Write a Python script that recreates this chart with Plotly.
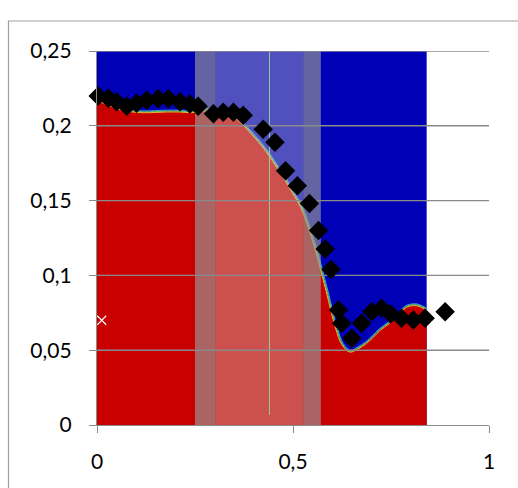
import numpy as np
import plotly.graph_objects as go

# Interface between the red (lower) and blue (upper) phase fields
boundary_x = [0.0, 0.03, 0.06, 0.09, 0.12, 0.15, 0.18, 0.21, 0.24, 0.27, 0.30, 0.33,
              0.36, 0.39, 0.42, 0.44, 0.46, 0.48, 0.50, 0.52, 0.54, 0.56, 0.575, 0.586,
              0.598, 0.611, 0.625, 0.645, 0.665, 0.688, 0.705, 0.722, 0.745, 0.765,
              0.79, 0.816, 0.841]
boundary_y = [0.217, 0.214, 0.211, 0.2095, 0.209, 0.2092, 0.2095, 0.2095, 0.209, 0.21,
              0.211, 0.209, 0.204, 0.196, 0.187, 0.180, 0.172, 0.164, 0.155, 0.146,
              0.132, 0.115, 0.100, 0.089, 0.076, 0.0635, 0.054, 0.049, 0.051, 0.055,
              0.059, 0.0635, 0.068, 0.0725, 0.079, 0.080, 0.077]

# Measured points
meas_x = [0.003, 0.029, 0.05, 0.076, 0.101, 0.127, 0.156, 0.182, 0.212, 0.237, 0.258,
          0.297, 0.322, 0.348, 0.373, 0.424, 0.454, 0.481, 0.511, 0.542, 0.565, 0.582,
          0.597, 0.616, 0.624, 0.650, 0.675, 0.701, 0.726, 0.749, 0.777, 0.807, 0.837,
          0.888]
meas_y = [0.2199, 0.2184, 0.216, 0.213, 0.215, 0.217, 0.218, 0.218, 0.216, 0.2146,
          0.213, 0.208, 0.209, 0.209, 0.207, 0.1977, 0.189, 0.170, 0.160, 0.148, 0.130,
          0.1176, 0.104, 0.0769, 0.068, 0.058, 0.068, 0.0757, 0.078, 0.0742, 0.0713,
          0.0702, 0.0713, 0.0757]

# Highlighted x-windows
inner_band = [0.303, 0.526]
edge_bands = [[0.25, 0.303], [0.526, 0.571]]
marker_line_x = 0.44
stray_point = [0.012, 0.070]

x_ticks = [0, 0.5, 1]
x_labels = ["0", "0,5", "1"]
y_ticks = [0, 0.05, 0.1, 0.15, 0.2, 0.25]
y_labels = ["0", "0,05", "0,1", "0,15", "0,2", "0,25"]

GRID = "#8a8a8a"
BLUE = "#0000b6"
RED = "#c80000"

fig = go.Figure()
x_end = boundary_x[-1]
y_top = y_ticks[-1]

# blue field
fig.add_trace(go.Scatter(x=[0, x_end, x_end, 0, 0], y=[0, 0, y_top, y_top, 0],
                         mode="lines", fill="toself", fillcolor=BLUE,
                         line=dict(width=0), hoverinfo="skip"))
# red field under the interface
fig.add_trace(go.Scatter(x=boundary_x, y=boundary_y, mode="lines",
                         fill="tozeroy", fillcolor=RED, line=dict(width=0, shape="spline"),
                         hoverinfo="skip"))

# thin coloured rim along the interface, offset along the normal in pixel units
bx = np.array(boundary_x)
by = np.array(boundary_y)
sx, sy = 392.0, 1496.0
dx = np.gradient(bx * sx)
dy = np.gradient(by * sy)
nrm = np.hypot(dx, dy)
nx, ny = -dy / nrm, dx / nrm
for off, col, w in [(1.4, "#30a8dc", 1.0), (0.5, "#62c85a", 1.0), (-0.4, "#e6d030", 0.9)]:
    fig.add_trace(go.Scatter(x=bx + off * nx / sx, y=by + off * ny / sy, mode="lines",
                             line=dict(color=col, width=w, shape="spline"),
                             hoverinfo="skip"))

# translucent windows
def band(x0, x1, color):
    fig.add_trace(go.Scatter(x=[x0, x1, x1, x0, x0], y=[0, 0, y_top, y_top, 0],
                             mode="lines", fill="toself", fillcolor=color,
                             line=dict(width=0), hoverinfo="skip"))

band(inner_band[0], inner_band[1], "rgba(210,210,205,0.38)")
for b in edge_bands:
    band(b[0], b[1], "rgba(154,154,154,0.65)")

fig.add_trace(go.Scatter(x=[marker_line_x, marker_line_x], y=[0.0067, y_top], mode="lines",
                         line=dict(color="rgba(150,215,150,0.9)", width=1), hoverinfo="skip"))

# horizontal gridlines over the fields
for t in y_ticks[1:]:
    fig.add_trace(go.Scatter(x=[x_ticks[0], x_ticks[-1]], y=[t, t], mode="lines",
                             line=dict(color=GRID, width=1.4), hoverinfo="skip"))

fig.add_trace(go.Scatter(x=meas_x, y=meas_y, mode="markers",
                         marker=dict(symbol="diamond", size=15, color="black",
                                     line=dict(width=0)),
                         cliponaxis=False))

fig.add_trace(go.Scatter(x=[stray_point[0]], y=[stray_point[1]], mode="markers",
                         marker=dict(symbol="x-thin", size=9,
                                     line=dict(color="white", width=1.2)),
                         hoverinfo="skip"))

axis_font = dict(family="Lato, Open Sans, sans-serif", size=21, color="black")
fig.update_xaxes(range=[0, 1], tickvals=x_ticks, ticktext=x_labels, showgrid=False,
                 zeroline=False, showline=True, linecolor=GRID, linewidth=1.4,
                 ticks="outside", ticklen=7, tickcolor=GRID, tickwidth=1.4,
                 tickfont=axis_font, ticklabelstandoff=11)
fig.update_yaxes(range=[0, 0.25], tickvals=y_ticks, ticktext=y_labels, showgrid=False,
                 zeroline=False, showline=True, linecolor=GRID, linewidth=1.4,
                 ticks="outside", ticklen=7, tickcolor=GRID, tickwidth=1.4,
                 tickfont=axis_font, ticklabelstandoff=13)

# chart frame
fig.add_shape(type="rect", xref="paper", yref="paper", x0=-0.2258, x1=1.3,
              y0=-0.4, y1=1.0802, line=dict(color="#a0a0a0", width=1.2),
              fillcolor="rgba(0,0,0,0)", layer="below")

fig.update_layout(width=518, height=488, showlegend=False,
                  margin=dict(l=97, r=29, t=51, b=63),
                  paper_bgcolor="white", plot_bgcolor="white")

fig.write_html("out.html")
